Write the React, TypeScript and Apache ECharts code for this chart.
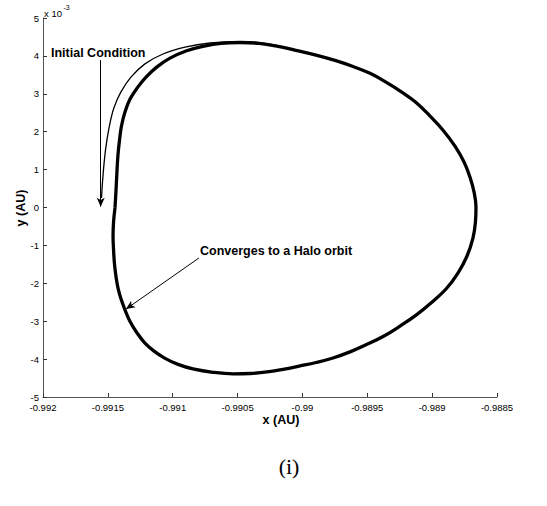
import React, { useEffect, useRef } from "react";
import * as echarts from "echarts";

// Converged halo orbit (x in AU, y in units of 1e-3 AU)
const haloX = [
  -0.991445, -0.991437, -0.99143, -0.991422, -0.99141, -0.991395, -0.991368, -0.991329,
  -0.991275, -0.991206, -0.991121, -0.991021, -0.990898, -0.990767, -0.990628, -0.990481,
  -0.990335, -0.990188, -0.990042, -0.989895, -0.989749, -0.98961, -0.989479, -0.989356,
  -0.98924, -0.989124, -0.989016, -0.988916, -0.988824, -0.988754, -0.988708, -0.988677,
  -0.988662, -0.988666, -0.988685, -0.988731, -0.988801, -0.988893, -0.989009, -0.989124,
  -0.989248, -0.989371, -0.989502, -0.989633, -0.989764, -0.989895, -0.990019, -0.99015,
  -0.990273, -0.990404, -0.990535, -0.990689, -0.990844, -0.990959, -0.991059, -0.991144,
  -0.991214, -0.991275, -0.991329, -0.991368, -0.991399, -0.991422, -0.991437, -0.991449,
  -0.991456, -0.99146, -0.991456, -0.991445,
];
const haloY = [
  -0.01, 0.46, 0.94, 1.39, 1.78, 2.15, 2.52, 2.86, 3.15, 3.44, 3.71, 3.94, 4.13, 4.25, 4.33,
  4.35, 4.33, 4.25, 4.14, 4.02, 3.88, 3.72, 3.54, 3.31, 3.06, 2.77, 2.41, 2.04, 1.62, 1.2,
  0.8, 0.41, 0.01, -0.38, -0.8, -1.28, -1.73, -2.15, -2.52, -2.84, -3.13, -3.39, -3.61,
  -3.81, -3.97, -4.09, -4.18, -4.27, -4.34, -4.38, -4.39, -4.35, -4.26, -4.14, -3.98, -3.79,
  -3.58, -3.31, -3.01, -2.7, -2.41, -2.12, -1.83, -1.49, -1.12, -0.75, -0.38, -0.01,
];

// First pass of the trajectory, from the initial condition
const initX = [
  -0.991549, -0.991537, -0.991518, -0.991491, -0.991453, -0.991399, -0.991322, -0.991214,
  -0.991075, -0.990905, -0.990713, -0.990481, -0.990289, -0.990019,
];
const initY = [0.25, 0.86, 1.52, 2.1, 2.63, 3.05, 3.44, 3.79, 4.05, 4.23, 4.34, 4.38, 4.33, 4.13];

// Annotation arrows: [x0, y0, x1, y1]
const initArrow = [-0.991555, 3.89, -0.991555, 0.02];
const haloArrow = [-0.990797, -1.33, -0.99136, -2.68];

const xMin = -0.992;
const xMax = -0.9885;
const xStep = 0.0005;
const yMin = -5;
const yMax = 5;
const yStep = 1;

const FONT = "'Liberation Sans', Arial, Helvetica, sans-serif";

export default function App() {
  const ref = useRef<HTMLDivElement>(null);
  useEffect(() => {
    document.body.style.margin = "0";
    const chart = echarts.init(ref.current!, undefined, { renderer: "svg" });
    const halo = haloX.map((x, i) => [x, haloY[i]]);
    const init = initX.map((x, i) => [x, initY[i]]);
    const arrowStyle = { color: "#000", width: 1, type: "solid" as const };
    const axisCommon = {
      axisLine: { show: true, onZero: false, lineStyle: { color: "#555", width: 1 } },
      axisTick: { show: true, inside: true, length: 4, lineStyle: { color: "#333" } },
      splitLine: { show: false },
    };
    chart.setOption({
      animation: false,
      backgroundColor: "#fff",
      grid: { left: 43, right: 50, top: 18, bottom: 109, containLabel: false },
      xAxis: {
        type: "value",
        min: xMin,
        max: xMax,
        interval: xStep,
        ...axisCommon,
        axisLabel: {
          color: "#000",
          fontSize: 9.5,
          fontFamily: FONT,
          margin: 5,
          formatter: (v: number) => String(Number(v.toFixed(4))),
        },
      },
      yAxis: {
        type: "value",
        min: yMin,
        max: yMax,
        interval: yStep,
        ...axisCommon,
        axisLabel: {
          color: "#000",
          fontSize: 9.5,
          fontFamily: FONT,
          margin: 4,
          formatter: (v: number) => String(Math.round(v)),
        },
      },
      series: [
        {
          type: "line",
          data: init,
          showSymbol: false,
          symbol: "none",
          smooth: 0.4,
          lineStyle: { color: "#000", width: 1.3 },
          silent: true,
        },
        {
          type: "line",
          data: halo,
          showSymbol: false,
          symbol: "none",
          smooth: 0.4,
          lineStyle: { color: "#000", width: 3.3 },
          silent: true,
          markLine: {
            silent: true,
            symbol: ["none", "arrow"],
            symbolSize: [6, 9],
            label: { show: false },
            lineStyle: arrowStyle,
            data: [
              [
                { coord: [initArrow[0], initArrow[1]] },
                { coord: [initArrow[2], initArrow[3]] },
              ],
              [
                { coord: [haloArrow[0], haloArrow[1]] },
                { coord: [haloArrow[2], haloArrow[3]] },
              ],
            ],
          },
        },
      ],
      graphic: [
        {
          type: "text",
          x: 51,
          y: 53,
          style: {
            text: "Initial Condition",
            fontSize: 12.5,
            fontWeight: "bold",
            fontFamily: FONT,
            fill: "#000",
            align: "left",
            verticalAlign: "middle",
          },
        },
        {
          type: "text",
          x: 200,
          y: 251,
          style: {
            text: "Converges to a Halo orbit",
            fontSize: 12.5,
            fontWeight: "bold",
            fontFamily: FONT,
            fill: "#000",
            align: "left",
            verticalAlign: "middle",
          },
        },
        {
          type: "text",
          x: 281,
          y: 420,
          style: {
            text: "x (AU)",
            fontSize: 12.5,
            fontWeight: "bold",
            fontFamily: FONT,
            fill: "#000",
            align: "center",
            verticalAlign: "middle",
          },
        },
        {
          type: "text",
          x: 21,
          y: 208,
          rotation: Math.PI / 2,
          style: {
            text: "y (AU)",
            fontSize: 12.5,
            fontWeight: "bold",
            fontFamily: FONT,
            fill: "#000",
            align: "center",
            verticalAlign: "middle",
          },
        },
        {
          type: "text",
          x: 44,
          y: 13,
          style: {
            text: "x 10",
            fontSize: 9.5,
            fontFamily: FONT,
            fill: "#000",
            align: "left",
            verticalAlign: "middle",
          },
        },
        {
          type: "text",
          x: 63.5,
          y: 7,
          style: {
            text: "-3",
            fontSize: 7,
            fontFamily: FONT,
            fill: "#000",
            align: "left",
            verticalAlign: "middle",
          },
        },
        {
          type: "text",
          x: 289,
          y: 466,
          style: {
            text: "(i)",
            fontSize: 22,
            fontFamily: "'Liberation Serif', 'DejaVu Serif', serif",
            fill: "#000",
            align: "center",
            verticalAlign: "middle",
          },
        },
      ],
    });
    return () => chart.dispose();
  }, []);
  return (
    <div
      ref={ref}
      style={{ position: "absolute", left: 0, top: 0, width: 547, height: 506 }}
    />
  );
}
